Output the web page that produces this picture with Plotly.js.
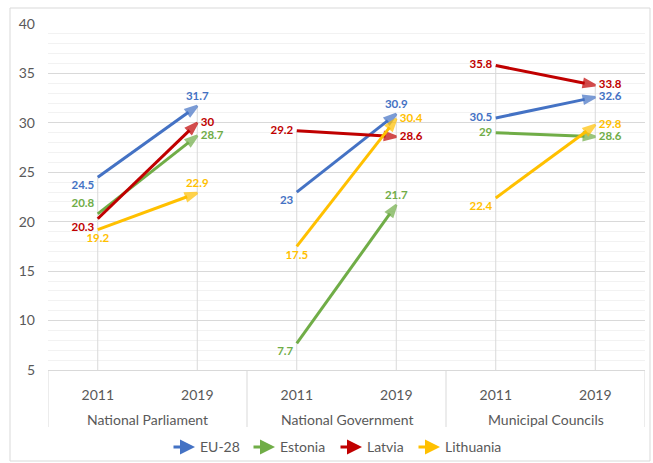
<!DOCTYPE html>
<html>
<head>
<meta charset="utf-8">
<script src="https://cdn.plot.ly/plotly-3.0.1.min.js"></script>
<style>
  html, body { margin: 0; padding: 0; background: #fff; }
  #chart { width: 653px; height: 463px; }
</style>
</head>
<body>
<div id="chart"></div>
<script>
// ---- Data ----
const years = ['2011', '2019', '2011', '2019', '2011', '2019'];
const groups = ['National Parliament', 'National Government', 'Municipal Councils'];
const seriesNames = ['EU-28', 'Estonia', 'Latvia', 'Lithuania'];
const eu28 = [24.5, 31.7, 23, 30.9, 30.5, 32.6];
const estonia = [20.8, 28.7, 7.7, 21.7, 29, 28.6];
const latvia = [20.3, 30, 29.2, 28.6, 35.8, 33.8];
const lithuania = [19.2, 22.9, 17.5, 30.4, 22.4, 29.8];

// ---- Styles ----
const colors = ['#4472C4', '#70AD47', '#C00000', '#FFC000'];
const labelPos = [
  ['bottom left', 'top center', 'bottom left', 'top center', 'middle left', 'middle right'],
  ['top left', 'middle right', 'bottom left', 'top center', 'middle left', 'middle right'],
  ['bottom left', 'middle right', 'middle left', 'middle right', 'middle left', 'middle right'],
  ['bottom center', 'top center', 'bottom center', 'middle right', 'bottom left', 'middle right']
];
const FONT = 'Lato, "Open Sans", "DejaVu Sans", sans-serif';
const GREY = '#595959';

const allSeries = [eu28, estonia, latvia, lithuania];
const xPos = years.map((_, i) => i + 0.5);

// expand into segments with gaps between groups
function seg(arr) {
  const out = [];
  for (let g = 0; g < groups.length; g++) {
    out.push(arr[2 * g], arr[2 * g + 1]);
    if (g < groups.length - 1) out.push(null);
  }
  return out;
}

const traces = [];

// drop lines from max value to axis
const dropX = [], dropY = [];
xPos.forEach((x, i) => {
  const m = Math.max(...allSeries.map(s => s[i]));
  dropX.push(x, x, null);
  dropY.push(m, 5, null);
});
traces.push({
  x: dropX, y: dropY, mode: 'lines', type: 'scatter',
  line: { color: '#d9d9d9', width: 1 },
  hoverinfo: 'skip', showlegend: false
});

// arrows
allSeries.forEach((s, k) => {
  const sizes = seg(s.map((_, i) => (i % 2 === 0 ? 0 : 12)));
  traces.push({
    x: seg(xPos), y: seg(s), type: 'scatter', mode: 'lines+markers',
    name: seriesNames[k],
    line: { color: colors[k], width: 3 },
    marker: { symbol: 'arrow', angleref: 'previous', size: sizes, color: colors[k],
              line: { color: colors[k], width: 2.5 } },
    cliponaxis: false, hoverinfo: 'skip', showlegend: false
  });
});

// data labels
allSeries.forEach((s, k) => {
  traces.push({
    x: xPos, y: s, type: 'scatter', mode: 'text+markers',
    text: s.map(v => String(v)), textposition: labelPos[k],
    textfont: { family: FONT, size: 11.5, color: colors[k], weight: 'bold' },
    marker: { size: 4, color: 'rgba(0,0,0,0)' },
    cliponaxis: false, hoverinfo: 'skip', showlegend: false
  });
});

const ml = 48, mr = 8, mt = 24, mb = 93;
const W = 653, H = 463;
const pw = W - ml - mr, ph = H - mt - mb;
const px2x = p => (p - ml) / pw;
const py2y = p => (H - mb - p) / ph;

const shapes = [
  { type: 'rect', xref: 'paper', yref: 'paper',
    x0: px2x(10), x1: px2x(650), y0: py2y(461), y1: py2y(8),
    line: { color: '#d9d9d9', width: 1 } }
];
for (let g = 0; g <= groups.length; g++) {
  shapes.push({ type: 'line', xref: 'x', yref: 'paper', x0: 2 * g, x1: 2 * g,
    y0: 0, y1: py2y(427), line: { color: '#d9d9d9', width: 1 } });
}

const annotations = groups.map((g, i) => ({
  x: 2 * i + 1, xref: 'x', y: py2y(419), yref: 'paper', text: g, showarrow: false,
  font: { family: FONT, size: 14, color: GREY }, xanchor: 'center', yanchor: 'middle'
}));

// legend (arrow symbol + name)
const legendTips = [195, 275, 362, 440];
seriesNames.forEach((n, k) => {
  annotations.push({
    x: px2x(legendTips[k]), y: py2y(447), xref: 'paper', yref: 'paper',
    text: '', showarrow: true, ax: -23, ay: 0, axref: 'pixel', ayref: 'pixel',
    arrowhead: 2, arrowsize: 1, arrowwidth: 3, arrowcolor: colors[k], standoff: 0
  });
  annotations.push({
    x: px2x(legendTips[k] + 3), y: py2y(447), xref: 'paper', yref: 'paper',
    text: n, showarrow: false, xanchor: 'left', yanchor: 'middle',
    font: { family: FONT, size: 14, color: GREY }
  });
});

const layout = {
  width: W, height: H,
  margin: { l: ml, r: mr, t: mt, b: mb },
  paper_bgcolor: '#fff', plot_bgcolor: '#fff',
  showlegend: false,
  xaxis: {
    range: [0, 6], tickvals: xPos, ticktext: years, showgrid: false, zeroline: false,
    showline: true, linecolor: '#d9d9d9', linewidth: 1, ticks: '',
    ticklabelstandoff: 12, automargin: false,
    tickfont: { family: FONT, size: 14, color: GREY }, fixedrange: true
  },
  yaxis: {
    range: [5, 40], dtick: 5, tick0: 5, showgrid: true, gridcolor: '#d9d9d9', gridwidth: 1,
    zeroline: false, showline: false, ticks: '', ticklabelstandoff: 12, automargin: false,
    minor: { dtick: 1, showgrid: true, gridcolor: '#f2f2f2', gridwidth: 1 },
    tickfont: { family: FONT, size: 14, color: GREY }, fixedrange: true
  },
  shapes: shapes,
  annotations: annotations,
  hovermode: false
};

Plotly.newPlot('chart', traces, layout, { displayModeBar: false, staticPlot: true });
</script>
</body>
</html>
